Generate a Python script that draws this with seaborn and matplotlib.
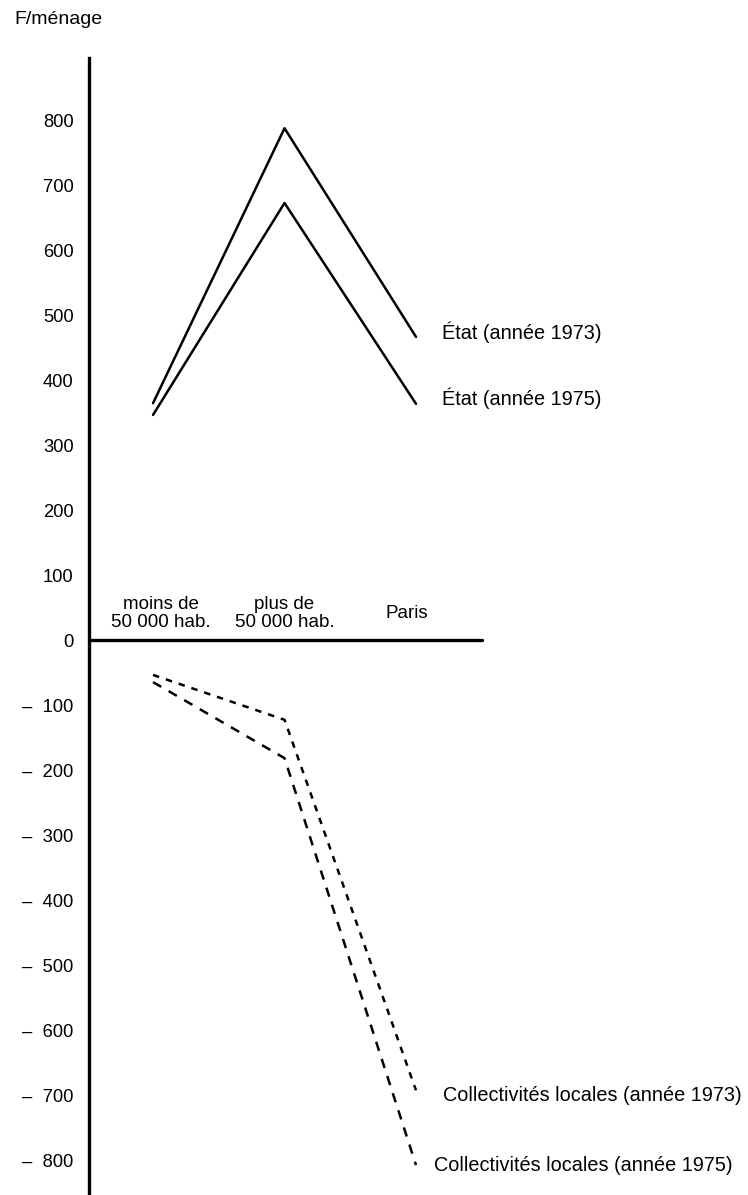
import numpy as np
import pandas as pd
import matplotlib
matplotlib.use("Agg")
import matplotlib.pyplot as plt
import seaborn as sns

# data (F per household)
categories = ["moins de\n50 000 hab.", "plus de\n50 000 hab.", "Paris"]
etat_1973 = [365, 788, 467]
etat_1975 = [347, 673, 364]
coll_1973 = [-53, -122, -692]
coll_1975 = [-64, -181, -807]
y_ticks = [800, 700, 600, 500, 400, 300, 200, 100, 0,
           -100, -200, -300, -400, -500, -600, -700, -800]

sns.set_style("white")
plt.rcParams['font.family'] = ['Liberation Sans', 'DejaVu Sans']
plt.rcParams['text.color'] = 'black'
plt.rcParams['ytick.color'] = 'black'

x_pos = list(range(len(categories)))
# name, values, line style, label offset (points)
series = [
    ("État (année 1973)", etat_1973, "-", (19, 3)),
    ("État (année 1975)", etat_1975, "-", (19, 4)),
    ("Collectivités locales (année 1973)", coll_1973, (0, (2.6, 2.8)), (19.5, -3.6)),
    ("Collectivités locales (année 1975)", coll_1975, (0, (3.8, 3.4)), (13, 0)),
]

fig = plt.figure(figsize=(7.48, 11.95), dpi=100)
ax = fig.add_axes([89 / 748, 0, 1 - 89 / 748, 1 - 58 / 1195])

for name, vals, ls, off in series:
    df = pd.DataFrame({"x": x_pos, "y": vals})
    sns.lineplot(data=df, x="x", y="y", color="black", linestyle=ls,
                 linewidth=1.8, ax=ax)
    ax.annotate(name, xy=(x_pos[-1], vals[-1]), xytext=off,
                textcoords="offset points", fontsize=14.3,
                va="center", ha="left", annotation_clip=False)

ax.set_xlim(-0.487, 4.525)
ax.set_ylim(-853, 896)

# zero line (horizontal axis)
ax.axhline(0, xmin=0, xmax=0.596, color="black", linewidth=2.4)

# category labels above the zero line
label_x = [0.06, 1.0, 1.93]
for lx, cat in zip(label_x, categories):
    ax.text(lx, 41.5, cat, ha="center", va="center", fontsize=13.5,
            linespacing=1.05)

tick_labels = [str(v) if v >= 0 else "\u2013  " + str(abs(v)) for v in y_ticks]
ax.set_yticks(y_ticks)
ax.set_yticklabels(tick_labels, fontsize=13.2)
ax.tick_params(axis="y", length=0, pad=11)
ax.set_xticks([])
ax.set_xlabel("")
ax.set_ylabel("")

for s in ["top", "right", "bottom"]:
    ax.spines[s].set_visible(False)
ax.spines["left"].set_linewidth(2.4)
ax.spines["left"].set_color("black")

fig.text(14 / 748, 1 - 20 / 1195, "F/ménage", fontsize=14, ha="left", va="center")

fig.savefig("out.png", dpi=100)
